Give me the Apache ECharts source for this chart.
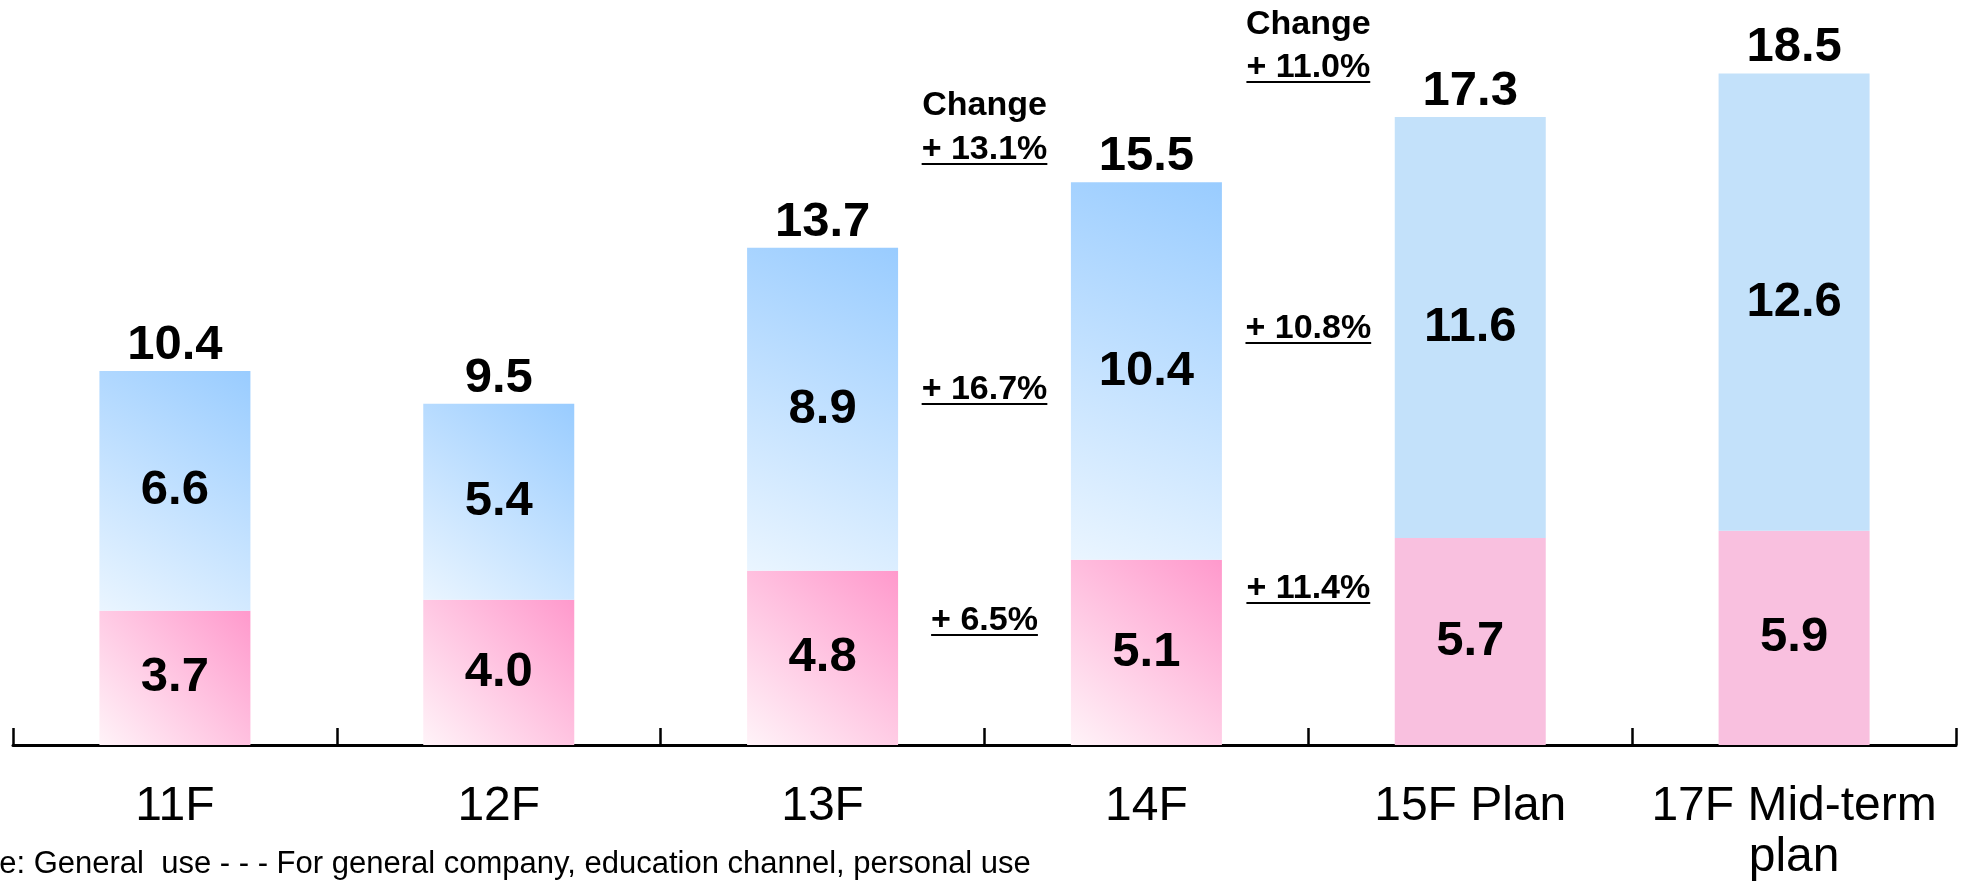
<!DOCTYPE html>
<html lang="en">
<head>
<meta charset="UTF-8">
<title>Shipments by use</title>
<style>
  html, body { margin: 0; padding: 0; background: #fff; }
  #chartContainer { width: 1961px; height: 896px; }
</style>
<script src="https://cdn.jsdelivr.net/npm/echarts@6/dist/echarts.min.js"></script>
</head>
<body>
<div id="chartContainer"></div>
<script>
  const categories = ['11F', '12F', '13F', '14F', '15F Plan', '17F Mid-term\nplan'];
  const generalUse = [3.7, 4.0, 4.8, 5.1, 5.7, 5.9];
  const otherUse = [6.6, 5.4, 8.9, 10.4, 11.6, 12.6];
  const totals = [10.4, 9.5, 13.7, 15.5, 17.3, 18.5];
  const planStart = 4; // plan columns get a flat fill

  // change annotations, between 13F/14F and 14F/15F
  const changeTotal = ['+ 13.1%', '+ 11.0%'];
  const changeOther = ['+ 16.7%', '+ 10.8%'];
  const changeGeneral = ['+ 6.5%', '+ 11.4%'];

  const FONT = '"Liberation Sans", Arial, sans-serif';

  const blueGrad = new echarts.graphic.LinearGradient(0, 1, 1, 0, [
    { offset: 0, color: '#eaf5ff' },
    { offset: 1, color: '#99ccff' }
  ]);
  const pinkGrad = new echarts.graphic.LinearGradient(0, 1, 1, 0, [
    { offset: 0, color: '#fff3f8' },
    { offset: 1, color: '#ff99cc' }
  ]);

  function styled(values, grad, flat) {
    return values.map((v, i) => ({
      value: v,
      itemStyle: { color: i >= planStart ? flat : grad }
    }));
  }

  const valueLabel = {
    show: true,
    position: 'inside',
    color: '#000',
    fontFamily: FONT,
    fontWeight: 'bold',
    fontSize: 49
  };

  const chartDom = document.getElementById('chartContainer');
  const myChart = echarts.init(chartDom);

  const option = {
    animation: false,
    grid: { left: 13, right: 5, top: 19, bottom: 151 },
    xAxis: {
      type: 'category',
      data: categories,
      axisLine: { show: true, lineStyle: { color: '#000', width: 3 } },
      axisTick: { show: true, inside: true, length: 17, lineStyle: { color: '#000', width: 2.5 } },
      axisLabel: {
        interval: 0,
        margin: 36,
        color: '#000',
        fontFamily: FONT,
        fontSize: 48,
        lineHeight: 51
      }
    },
    yAxis: { type: 'value', min: 0, max: 20, show: false, splitLine: { show: false } },
    series: [
      {
        name: 'General use',
        type: 'bar',
        stack: 'total',
        barWidth: 151,
        data: styled(generalUse, pinkGrad, '#f9c0df'),
        label: Object.assign({}, valueLabel, { formatter: p => p.value.toFixed(1) })
      },
      {
        name: 'Other use',
        type: 'bar',
        stack: 'total',
        barWidth: 151,
        data: styled(otherUse, blueGrad, '#c3e1fa'),
        label: Object.assign({}, valueLabel, { formatter: p => p.value.toFixed(1) })
      },
      {
        // zero-height cap that carries the total label
        name: 'Total',
        type: 'bar',
        stack: 'total',
        barWidth: 151,
        data: totals.map(() => 0),
        itemStyle: { color: 'transparent' },
        label: Object.assign({}, valueLabel, {
          position: 'top',
          distance: 1,
          formatter: p => totals[p.dataIndex].toFixed(1)
        })
      }
    ]
  };

  myChart.setOption(option);

  // annotation layout
  const ctx = document.createElement('canvas').getContext('2d');
  const boldFont = 'bold 34px ' + FONT;
  ctx.font = boldFont;

  function colX(i) {
    const a = myChart.convertToPixel({ xAxisIndex: 0 }, i);
    const b = myChart.convertToPixel({ xAxisIndex: 0 }, i + 1);
    return (a + b) / 2;
  }

  function note(text, x, y, underline) {
    const els = [{
      type: 'text',
      x: x,
      y: y,
      style: { text: text, font: boldFont, fill: '#000', align: 'center', verticalAlign: 'middle' }
    }];
    if (underline) {
      const w = ctx.measureText(text).width;
      els.push({
        type: 'line',
        shape: { x1: x - w / 2, y1: y + 14, x2: x + w / 2, y2: y + 14 },
        style: { stroke: '#000', lineWidth: 2 }
      });
    }
    return els;
  }

  const cols = [
    { x: colX(2), change: 106, total: 150, other: 390, general: 621 },
    { x: colX(3), change: 25, total: 68, other: 329, general: 589 }
  ];

  let graphics = [];
  cols.forEach((c, i) => {
    graphics = graphics.concat(
      note('Change', c.x, c.change, false),
      note(changeTotal[i], c.x, c.total, true),
      note(changeOther[i], c.x, c.other, true),
      note(changeGeneral[i], c.x, c.general, true)
    );
  });

  graphics.push({
    type: 'text',
    x: -49,
    y: 864,
    style: {
      text: 'Note: General  use - - - For general company, education channel, personal use',
      font: '31px ' + FONT,
      fill: '#000',
      align: 'left',
      verticalAlign: 'middle'
    }
  });

  myChart.setOption({ graphic: graphics });
</script>
</body>
</html>
